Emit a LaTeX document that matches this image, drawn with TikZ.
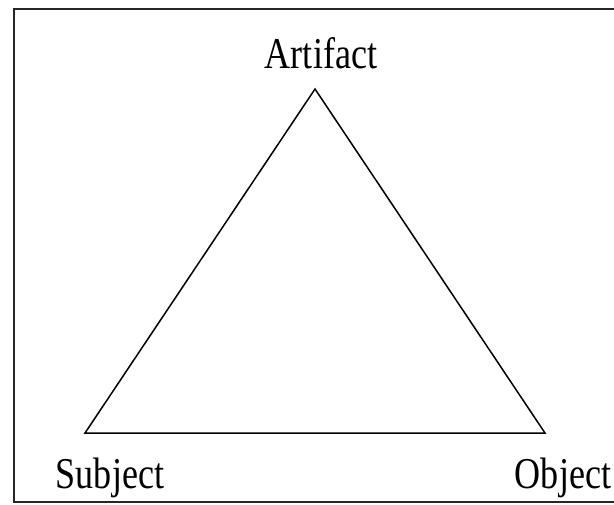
\documentclass[tikz,border=0pt]{standalone}
\usepackage{fontspec}
\setmainfont{Liberation Serif}
\usetikzlibrary{positioning}
\newcommand{\narrow}[1]{\scalebox{0.82}[1]{#1}}
\tikzset{
	corner/.style={font=\fontsize{22}{24}\selectfont, anchor=base, inner sep=0pt},
	side/.style={line width=0.75pt, line join=miter},
	frame/.style={line width=1.1pt, draw=black!85}
}

\begin{document}
\begin{tikzpicture}[x=0.5pt, y=-0.5pt]
		\useasboundingbox (0,0) rectangle (614,504);
		
		% Frame
		\draw[frame] (14,9) rectangle (640,502);
		
		% Corners
		\coordinate (A) at (315,89);
		\coordinate (S) at (85,433);
		\coordinate (O) at (545,433);
		
		% Labels
		\node (artifact) [corner] at (321,68) {\narrow{Artifact}};
		\node (subject) [corner] at (110,488) {\narrow{Subject}};
		\node (object) [corner] at (563,488) {\narrow{Object}};
		
		% Triangle
		\draw[side] (A) -- (O) -- (S) -- cycle;
		
\end{tikzpicture}
\end{document}
